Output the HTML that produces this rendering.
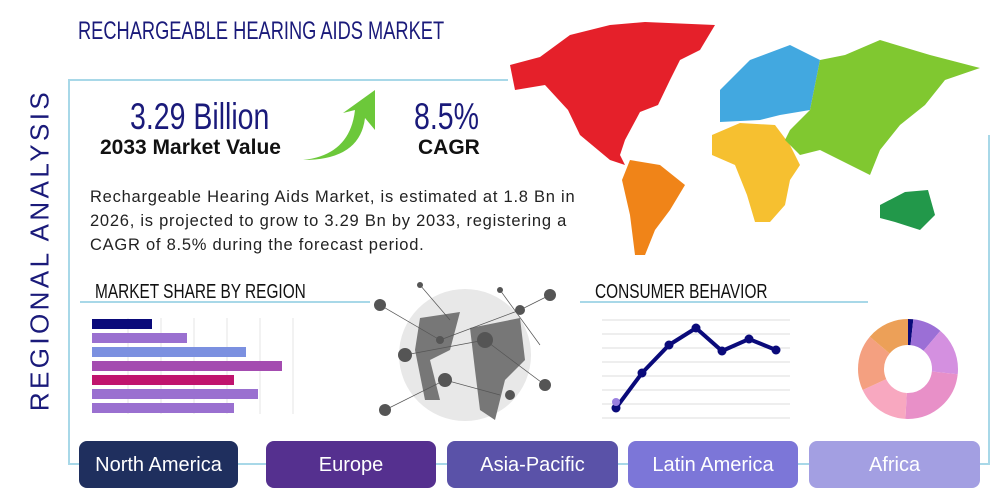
<!DOCTYPE html>
<html><head><meta charset="utf-8"><style>
*{margin:0;padding:0;box-sizing:border-box}
body{width:1000px;height:500px;background:#fff;position:relative;overflow:hidden;font-family:"Liberation Sans",sans-serif}
.a{position:absolute;white-space:nowrap}
.btn{position:absolute;top:441px;height:47px;border-radius:8px;color:#fff;font-size:20px;display:flex;align-items:center;justify-content:center;padding-top:2px}
</style></head><body>
<div class="a" style="left:78px;top:17px;font-size:25px;color:#1a1a7a;transform:scaleX(0.73);transform-origin:left">RECHARGEABLE HEARING AIDS MARKET</div>
<div class="a" style="left:68px;top:79px;width:440px;height:2px;background:#a8d8e8"></div>
<div class="a" style="left:68px;top:79px;width:2px;height:386px;background:#a8d8e8"></div>
<div class="a" style="left:68px;top:463px;width:922px;height:2px;background:#a8d8e8"></div>
<div class="a" style="left:988px;top:135px;width:2px;height:330px;background:#a8d8e8"></div>
<div class="a" style="left:40px;top:250px;transform:translate(-50%,-50%) rotate(-90deg);font-size:26px;letter-spacing:3.4px;color:#1a1a7a">REGIONAL ANALYSIS</div>
<div class="a" style="left:130px;top:96px;font-size:37px;color:#1a1a7a;transform:scaleX(0.77);transform-origin:left">3.29 Billion</div>
<div class="a" style="left:100px;top:136px;font-size:21px;font-weight:bold;color:#111">2033 Market Value</div>
<div class="a" style="left:414px;top:96px;font-size:37px;color:#1a1a7a;transform:scaleX(0.77);transform-origin:left">8.5%</div>
<div class="a" style="left:418px;top:136px;font-size:21px;font-weight:bold;color:#111">CAGR</div>
<svg class="a" style="left:295px;top:85px" width="90" height="80"><path d="M8 75 Q55 70 60 25 L48 28 L80 5 L80 45 L70 33 Q65 75 8 75Z" fill="#6cc83a"/></svg>
<div class="a" style="left:90px;top:185px;width:505px;white-space:normal;font-size:16.5px;letter-spacing:0.75px;line-height:24px;color:#222">Rechargeable Hearing Aids Market, is estimated at 1.8 Bn in 2026, is projected to grow to 3.29 Bn by 2033, registering a CAGR of 8.5% during the forecast period.</div>
<svg class="a" style="left:0;top:0" width="1000" height="270">
<path d="M510,65 540,57 570,35 610,25 645,22 715,25 700,50 680,60 670,80 658,105 640,112 625,140 620,155 625,165 610,160 580,135 568,110 545,85 515,90Z" fill="#e5202a"/>
<path d="M630,160 660,165 685,185 670,210 655,230 645,255 635,255 630,215 622,180Z" fill="#f08418"/>
<path d="M720,90 750,60 790,45 820,60 810,110 780,115 760,120 720,122 720,100Z" fill="#42a8e0"/>
<path d="M712,135 740,123 775,125 790,145 800,165 790,180 785,205 770,222 755,222 747,195 735,165 712,155Z" fill="#f6c030"/>
<path d="M790,130 810,110 820,60 845,55 880,40 930,55 980,68 945,80 925,105 900,125 880,150 870,175 860,170 840,160 820,150 800,155 785,140Z" fill="#80c830"/>
<path d="M880,205 905,192 928,190 935,215 920,230 895,222 880,218Z" fill="#22984a"/>
</svg>
<div class="a" style="left:95px;top:281px;font-size:20px;color:#111;transform:scaleX(0.77);transform-origin:left">MARKET SHARE BY REGION</div>
<div class="a" style="left:80px;top:301px;width:290px;height:2px;background:#a8d8e8"></div>
<div class="a" style="left:595px;top:281px;font-size:20px;color:#111;transform:scaleX(0.77);transform-origin:left">CONSUMER BEHAVIOR</div>
<div class="a" style="left:580px;top:301px;width:288px;height:2px;background:#a8d8e8"></div>
<svg class="a" style="left:0;top:0" width="1000" height="500">
<g stroke="#e4e4e4"><line x1="128" y1="318" x2="128" y2="414"/><line x1="161" y1="318" x2="161" y2="414"/><line x1="194" y1="318" x2="194" y2="414"/><line x1="227" y1="318" x2="227" y2="414"/><line x1="260" y1="318" x2="260" y2="414"/><line x1="293" y1="318" x2="293" y2="414"/></g>
<rect x="92" y="319" width="60" height="10" fill="#0a0a7a"/>
<rect x="92" y="333" width="95" height="10" fill="#9a70d0"/>
<rect x="92" y="347" width="154" height="10" fill="#7b90e0"/>
<rect x="92" y="361" width="190" height="10" fill="#a44cb0"/>
<rect x="92" y="375" width="142" height="10" fill="#c0146e"/>
<rect x="92" y="389" width="166" height="10" fill="#9a70d0"/>
<rect x="92" y="403" width="142" height="10" fill="#9a70d0"/>
<g stroke="#ddd"><line x1="602" y1="320" x2="790" y2="320"/><line x1="602" y1="334" x2="790" y2="334"/><line x1="602" y1="348" x2="790" y2="348"/><line x1="602" y1="362" x2="790" y2="362"/><line x1="602" y1="376" x2="790" y2="376"/><line x1="602" y1="390" x2="790" y2="390"/><line x1="602" y1="404" x2="790" y2="404"/><line x1="602" y1="418" x2="790" y2="418"/></g>
<polyline points="616,408 642,373 669,345 696,328 722,351 749,339 776,350" fill="none" stroke="#0a0a7a" stroke-width="4"/>
<g fill="#0a0a7a"><circle cx="616" cy="408" r="4.5"/><circle cx="642" cy="373" r="4.5"/><circle cx="669" cy="345" r="4.5"/><circle cx="696" cy="328" r="4.5"/><circle cx="722" cy="351" r="4.5"/><circle cx="749" cy="339" r="4.5"/><circle cx="776" cy="350" r="4.5"/></g>
<circle cx="616" cy="402" r="4" fill="#9a80e0"/>
<g fill="none" stroke-width="26" transform="rotate(-90 908 369)">
<circle cx="908" cy="369" r="37" stroke="#0a0a7a" stroke-dasharray="4 229"/>
<circle cx="908" cy="369" r="37" stroke="#9b6fd6" stroke-dasharray="22 211" stroke-dashoffset="-4"/>
<circle cx="908" cy="369" r="37" stroke="#d490e0" stroke-dasharray="36 197" stroke-dashoffset="-26"/>
<circle cx="908" cy="369" r="37" stroke="#e890c8" stroke-dasharray="56 177" stroke-dashoffset="-62"/>
<circle cx="908" cy="369" r="37" stroke="#f8a8c0" stroke-dasharray="40 193" stroke-dashoffset="-118"/>
<circle cx="908" cy="369" r="37" stroke="#f4a080" stroke-dasharray="42 191" stroke-dashoffset="-158"/>
<circle cx="908" cy="369" r="37" stroke="#eca058" stroke-dasharray="33 200" stroke-dashoffset="-200"/>
</g>
<circle cx="465" cy="355" r="66" fill="#e8e8e8"/>
<path d="M420 318 L460 312 L450 350 L430 360 L440 400 L425 400 L415 350Z" fill="#777"/>
<path d="M470 328 L520 318 L525 360 L505 380 L495 420 L480 410 L475 370Z" fill="#777"/>
<g stroke="#555" stroke-width="0.7" fill="none"><line x1="380" y1="305" x2="440" y2="340"/><line x1="440" y1="340" x2="520" y2="310"/><line x1="520" y1="310" x2="550" y2="295"/><line x1="405" y1="355" x2="485" y2="340"/><line x1="485" y1="340" x2="545" y2="385"/><line x1="385" y1="410" x2="445" y2="380"/><line x1="445" y1="380" x2="500" y2="395"/><line x1="420" y1="285" x2="450" y2="320"/><line x1="500" y1="290" x2="540" y2="345"/></g>
<g fill="#555"><circle cx="380" cy="305" r="6"/><circle cx="550" cy="295" r="6"/><circle cx="405" cy="355" r="7"/><circle cx="485" cy="340" r="8"/><circle cx="545" cy="385" r="6"/><circle cx="385" cy="410" r="6"/><circle cx="445" cy="380" r="7"/><circle cx="510" cy="395" r="5"/><circle cx="420" cy="285" r="3"/><circle cx="500" cy="290" r="3"/><circle cx="440" cy="340" r="4"/><circle cx="520" cy="310" r="5"/></g>
</svg>
<div class="btn" style="left:79px;width:159px;background:#1f2f5e">North America</div>
<div class="btn" style="left:266px;width:170px;background:#55308f">Europe</div>
<div class="btn" style="left:447px;width:171px;background:#5a52a8">Asia-Pacific</div>
<div class="btn" style="left:628px;width:170px;background:#7c76d8">Latin America</div>
<div class="btn" style="left:809px;width:171px;background:#a39fe2">Africa</div>
</body></html>
